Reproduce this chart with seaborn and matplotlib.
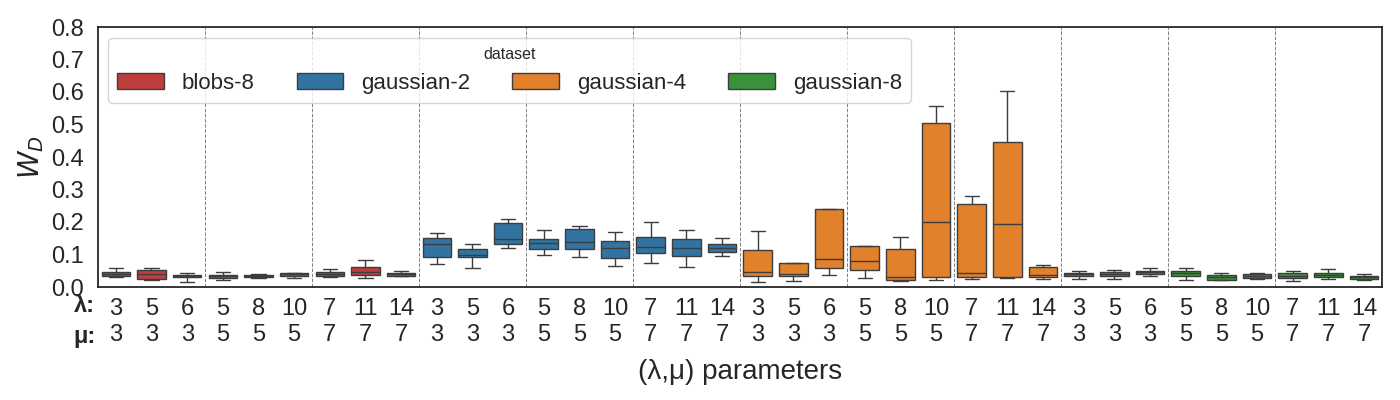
import numpy as np
import pandas as pd
import matplotlib
matplotlib.use('Agg')
import matplotlib.pyplot as plt
import seaborn as sns

# (lambda, mu) settings, same for every dataset
lam = [3, 5, 6, 5, 8, 10, 7, 11, 14]
mu = [3, 3, 3, 5, 5, 5, 7, 7, 7]
datasets = ['blobs-8', 'gaussian-2', 'gaussian-4', 'gaussian-8']

# five-number summary per box: [min, q1, median, q3, max]
blobs8 = [[0.032, 0.035, 0.040, 0.045, 0.057],
          [0.022, 0.024, 0.039, 0.052, 0.057],
          [0.016, 0.030, 0.033, 0.036, 0.042],
          [0.022, 0.029, 0.033, 0.036, 0.045],
          [0.029, 0.030, 0.033, 0.036, 0.039],
          [0.027, 0.035, 0.039, 0.042, 0.042],
          [0.030, 0.035, 0.041, 0.045, 0.055],
          [0.028, 0.036, 0.047, 0.062, 0.083],
          [0.033, 0.033, 0.039, 0.042, 0.050]]
gaussian2 = [[0.070, 0.091, 0.131, 0.151, 0.165],
             [0.057, 0.091, 0.100, 0.116, 0.131],
             [0.119, 0.131, 0.147, 0.196, 0.208],
             [0.100, 0.116, 0.134, 0.147, 0.174],
             [0.091, 0.116, 0.137, 0.177, 0.189],
             [0.064, 0.088, 0.119, 0.141, 0.168],
             [0.073, 0.104, 0.122, 0.153, 0.199],
             [0.061, 0.094, 0.119, 0.147, 0.174],
             [0.094, 0.107, 0.119, 0.131, 0.150]]
gaussian4 = [[0.014, 0.033, 0.045, 0.113, 0.171],
             [0.018, 0.033, 0.039, 0.073, 0.073],
             [0.036, 0.057, 0.085, 0.239, 0.239],
             [0.027, 0.051, 0.079, 0.125, 0.127],
             [0.018, 0.021, 0.030, 0.116, 0.153],
             [0.021, 0.030, 0.199, 0.504, 0.556],
             [0.024, 0.030, 0.042, 0.254, 0.279],
             [0.027, 0.030, 0.193, 0.445, 0.602],
             [0.024, 0.030, 0.036, 0.061, 0.067]]
gaussian8 = [[0.025, 0.033, 0.039, 0.043, 0.049],
             [0.024, 0.033, 0.039, 0.046, 0.051],
             [0.033, 0.040, 0.045, 0.050, 0.058],
             [0.021, 0.033, 0.042, 0.049, 0.057],
             [0.021, 0.023, 0.031, 0.037, 0.043],
             [0.025, 0.029, 0.035, 0.040, 0.043],
             [0.018, 0.027, 0.035, 0.043, 0.048],
             [0.024, 0.030, 0.038, 0.044, 0.055],
             [0.021, 0.026, 0.030, 0.034, 0.039]]
colors = {'blobs-8': 'tab:red', 'gaussian-2': 'tab:blue',
          'gaussian-4': 'tab:orange', 'gaussian-8': 'tab:green'}

stats = {'blobs-8': blobs8, 'gaussian-2': gaussian2,
         'gaussian-4': gaussian4, 'gaussian-8': gaussian8}

# long table: one row per value, one x category per (dataset, lambda, mu)
rows = []
order = []
for d in datasets:
    for i in range(len(lam)):
        key = f'{d} {lam[i]},{mu[i]}'
        order.append(key)
        for v in stats[d][i]:
            rows.append({'param': key, 'WD': v, 'dataset': d})
df = pd.DataFrame(rows)

sns.set_theme(style='white')
plt.rcParams['font.family'] = ['Liberation Sans', 'DejaVu Sans']

fig, ax = plt.subplots(figsize=(14, 4), dpi=100)
fig.subplots_adjust(left=0.07, right=0.987, top=0.9325, bottom=0.2825)

sns.boxplot(data=df, x='param', y='WD', hue='dataset', order=order,
            hue_order=datasets, palette=colors, dodge=False, whis=(0, 100),
            width=0.8, linewidth=1, ax=ax)

# dashed separators between the mu groups
for k in range(1, len(order) // 3):
    ax.axvline(3 * k - 0.5, color='gray', ls='--', lw=0.7, zorder=0)

ax.set_ylim(0, 0.8)
ax.set_yticks(np.arange(0, 0.81, 0.1))
ax.set_xlim(-0.5, len(order) - 0.5)
ax.set_xticks(range(len(order)))
ax.set_xticklabels([f'{lam[i % 9]}\n{mu[i % 9]}' for i in range(len(order))],
                   linespacing=1.2)
ax.tick_params(axis='both', labelsize=17, length=0)
ax.tick_params(axis='y', pad=10)
ax.tick_params(axis='x', pad=8)
ax.set_xlabel('(λ,μ) parameters', fontsize=20, labelpad=10)
ax.set_ylabel('$W_D$', fontsize=20, labelpad=4)
for sp in ax.spines.values():
    sp.set_linewidth(1.3)

fig.text(0.068, 1 - 305 / 400, 'λ:', ha='right', va='center', fontsize=17, fontweight='bold')
fig.text(0.068, 1 - 336 / 400, 'μ:', ha='right', va='center', fontsize=17, fontweight='bold')

ax.legend(title='dataset', ncol=4, loc='upper left',
          bbox_to_anchor=(0.008, 0.958), borderaxespad=0,
          fontsize=16, title_fontsize=11.5,
          handlelength=2.1, handleheight=0.75, handletextpad=0.8,
          columnspacing=1.9, borderpad=0.4)

plt.savefig('out.png')
